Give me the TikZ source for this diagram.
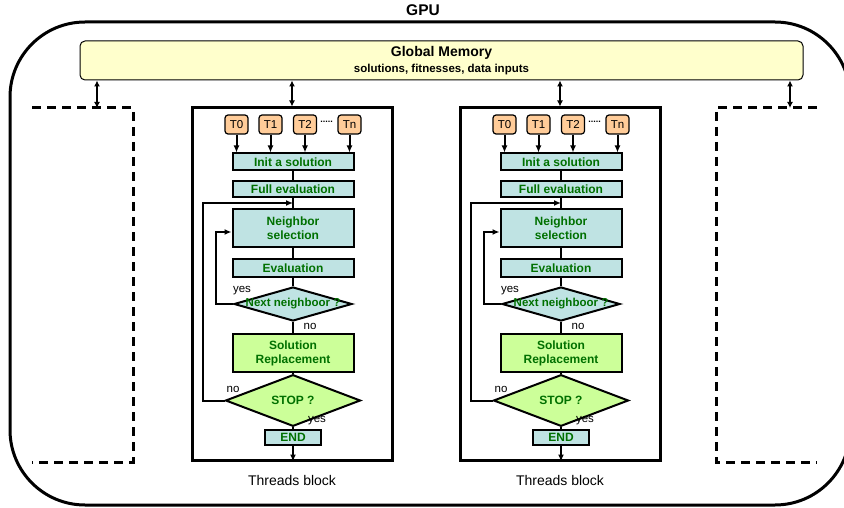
\documentclass[tikz,border=0pt]{standalone}
\usepackage{fontspec}
\setmainfont{Liberation Sans}
\usetikzlibrary{arrows.meta}
\usetikzlibrary{shapes.geometric}

\definecolor{memfill}{HTML}{FFFFCC}
\definecolor{thrfill}{HTML}{FFCC99}
\definecolor{opfill}{HTML}{BFE3E3}
\definecolor{repfill}{HTML}{CCFF99}
\definecolor{optext}{HTML}{007000}

\tikzset{
  thr/.style={draw, rounded corners=3pt, fill=thrfill, line width=1.2pt,
    minimum width=23pt, minimum height=19pt, inner sep=0pt,
    font=\fontsize{11.5}{11.5}\selectfont},
  op/.style={draw, fill=opfill, line width=2pt, minimum width=121pt,
    inner sep=0pt, text=optext, align=center,
    font=\bfseries\fontsize{12}{14}\selectfont},
  rep/.style={op, fill=repfill},
  dec/.style={draw, diamond, fill=opfill, line width=2pt, inner sep=0pt},
  lbl/.style={inner sep=0pt, font=\fontsize{11.5}{11.5}\selectfont},
  link/.style={line width=2pt},
  arr/.style={line width=2pt, -{Latex[length=7pt,width=6pt]}},
  dblarr/.style={line width=2pt, {Latex[length=6pt,width=6pt]}-{Latex[length=6pt,width=6pt]}},
  half/.style={line width=3pt, dash pattern=on 9pt off 6pt}
}

\begin{document}
\begin{tikzpicture}[x=1pt, y=-1pt]
  \useasboundingbox (0,0) rectangle (844,508);

  % GPU and global memory
  \draw[line width=3pt, rounded corners=75pt] (10,22) rectangle (850,505);
  \node[inner sep=0pt, font=\bfseries\fontsize{15.5}{15.5}\selectfont] (gpu) at (423,10) {GPU};
  \node[draw, fill=memfill, rounded corners=5pt, line width=1pt,
    minimum width=723pt, minimum height=39pt] (mem) at (441.5,60.5) {};
  \node[inner sep=0pt, font=\bfseries\fontsize{14}{14}\selectfont] (memt) at (441.5,52.5) {Global Memory};
  \node[inner sep=0pt, font=\bfseries\fontsize{11.5}{11.5}\selectfont] (mems) at (441.5,70) {solutions, fitnesses, data inputs};

  % other blocks, only hinted
  \coordinate (dl) at (97,108);
  \coordinate (dr) at (790,108);
  \draw[half] (32,108) -- (133,108) -- (133,462) -- (32,462);
  \draw[half] (817,108) -- (716,108) -- (716,462) -- (817,462);
  \draw[dblarr] (mem.south -| dl) -- (dl);
  \draw[dblarr] (mem.south -| dr) -- (dr);

  % two threads blocks
  \foreach \b/\cx in {a/293, b/561} {
    \node[draw, line width=3pt, minimum width=200pt, minimum height=352pt] (blk\b) at (\cx-1,284) {};
    \node[inner sep=0pt, font=\fontsize{14}{14}\selectfont] (blkt\b) at (\cx-1,480) {Threads block};
    \draw[dblarr] (mem.south -| blk\b.north) -- (blk\b.north);

    \node[thr] (t0\b) at (\cx-56.5,124.5) {T0};
    \node[thr] (t1\b) at (\cx-22.5,124.5) {T1};
    \node[thr] (t2\b) at (\cx+12,124.5) {T2};
    \node[thr] (tn\b) at (\cx+56.5,124.5) {Tn};
    \node[inner sep=0pt, font=\bfseries\fontsize{9}{9}\selectfont] (dots\b) at (\cx+33.5,122) {.....};

    \node[op, minimum height=17pt] (init\b) at (\cx,162) {Init a solution};
    \node[op, minimum height=16pt] (full\b) at (\cx,189.5) {Full evaluation};
    \node[op, minimum height=38pt] (nsel\b) at (\cx,228) {Neighbor\\selection};
    \node[op, minimum height=18pt] (eval\b) at (\cx,268) {Evaluation};
    \node[dec, minimum width=118pt, minimum height=34pt] (next\b) at (\cx,304) {};
    \node[inner sep=0pt, text=optext, font=\bfseries\fontsize{11.5}{11.5}\selectfont] (nextt\b) at (next\b) {Next neighboor ?};
    \node[rep, minimum height=38pt] (repl\b) at (\cx,353) {Solution\\Replacement};
    \node[dec, fill=repfill, minimum width=135pt, minimum height=35pt, text=optext,
      font=\bfseries\fontsize{12}{12}\selectfont] (stop\b) at (\cx,400.5) {STOP ?};
    \node[op, minimum width=56pt, minimum height=15pt] (end\b) at (\cx,437.5) {END};

    \foreach \t in {t0,t1,t2,tn}
      \draw[arr] (\t\b) -- (\t\b |- init\b.north);
    \draw[link] (init\b) -- (full\b) -- (nsel\b);
    \draw[link] (nsel\b) -- (eval\b) -- (next\b) -- (repl\b) -- (stop\b) -- (end\b);
    \draw[arr] (end\b) -- (blk\b.south -| end\b);

    % loops back
    \coordinate (lp\b) at (\cx,203);
    \draw[arr] (stop\b.west) -- ++(-22,0) |- (lp\b);
    \draw[arr] (next\b.west) -- ++(-17,0) |- ([yshift=-4pt]nsel\b.west);

    \node[lbl] (y1\b) at (\cx-51,291) {yes};
    \node[lbl] (n1\b) at (\cx+17,326) {no};
    \node[lbl] (n2\b) at (\cx-60,389) {no};
    \node[lbl] (y2\b) at (\cx+24,421) {yes};
  }
\end{tikzpicture}
\end{document}
